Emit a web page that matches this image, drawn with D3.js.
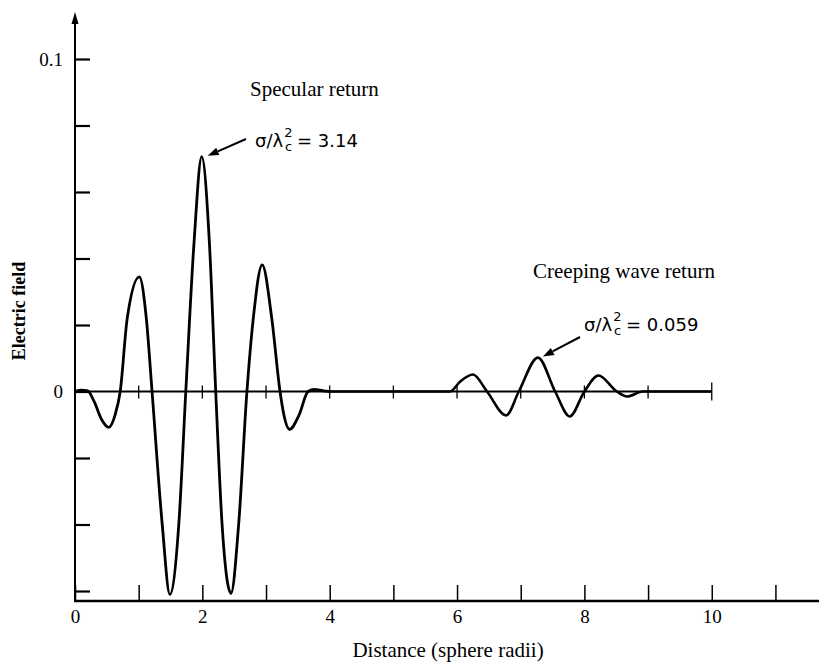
<!DOCTYPE html>
<html>
<head>
<meta charset="utf-8">
<script src="https://cdn.jsdelivr.net/npm/d3@7/dist/d3.min.js"></script>
<style>
	body { margin: 0; background: #fff; }
	svg { display: block; }
	text { font-family: "Liberation Serif", "Times New Roman", serif; fill: #000; }
	text.ratio { font-family: "DejaVu Sans", sans-serif; }
</style>
</head>
<body>
<div id="chart"></div>
<script>
// values
var specularDistance = [0.00, 0.10, 0.20, 0.30, 0.42, 0.53, 0.63, 0.71, 0.82, 1.01, 1.12, 1.21, 1.37, 1.49, 1.63, 1.74, 1.87, 1.99, 2.11, 2.21, 2.31, 2.45, 2.57, 2.70, 2.80, 2.94, 3.09, 3.22, 3.28, 3.37, 3.52, 3.66, 3.76, 3.90, 4.00];
var specularField    = [0, 0.0004, 0.0002, -0.003, -0.0085, -0.0108, -0.007, 0, 0.022, 0.0345, 0.022, 0, -0.04, -0.061, -0.04, 0, 0.045, 0.0706, 0.045, 0, -0.04, -0.0607, -0.04, 0, 0.022, 0.0381, 0.022, 0, -0.007, -0.0114, -0.007, 0, 0.0006, 0.0002, 0];

var creepDistance = [4.00, 5.00, 5.89, 6.05, 6.25, 6.47, 6.77, 6.97, 7.27, 7.54, 7.77, 8.00, 8.22, 8.51, 8.67, 8.92, 10.0];
var creepField    = [0, 0, 0, 0.003, 0.0051, 0, -0.0072, 0, 0.0102, 0, -0.0075, 0, 0.0048, 0, -0.0015, 0, 0];

var xTicks = [0, 1, 2, 3, 4, 5, 6, 7, 8, 9, 10, 11];
var xTickLabels = [0, 2, 4, 6, 8, 10];
var yTicks = [-0.06, -0.04, -0.02, 0, 0.02, 0.04, 0.06, 0.08, 0.1];
var yTickLabels = [0, 0.1];
var zeroLineTicks = [1, 2, 3, 4, 5, 6, 7, 8, 9, 10];

var width = 819, height = 663;

var svg = d3.select("#chart").append("svg")
	.attr("width", width)
	.attr("height", height);

var x = d3.scaleLinear().domain([0, 11.7]).range([75, 820]);
var y = d3.scaleLinear().domain([-0.06, 0.1]).range([591, 59]);
var axisY = 601; // baseline of the frame, slightly below -0.06

// x axis (ticks point up, labels only on even values)
var gx = svg.append("g")
	.attr("transform", "translate(0," + axisY + ")")
	.call(d3.axisBottom(x)
		.tickValues(xTicks)
		.tickSize(-16)
		.tickPadding(8)
		.tickFormat(function(d){ return xTickLabels.indexOf(d) >= 0 ? d : ""; }));
gx.select(".domain").remove();
gx.selectAll(".tick line").attr("stroke", "#000").attr("stroke-width", 1.5);
gx.selectAll(".tick text").style("font-size", "19px").attr("dy", "0.72em");

svg.append("line")
	.attr("x1", x(0) - 1).attr("x2", width)
	.attr("y1", axisY).attr("y2", axisY)
	.attr("stroke", "#000").attr("stroke-width", 2.5);

// y axis (ticks point right)
var gy = svg.append("g")
	.attr("transform", "translate(" + x(0) + ",0)")
	.call(d3.axisLeft(y)
		.tickValues(yTicks)
		.tickSize(-15)
		.tickPadding(12)
		.tickFormat(function(d){ return yTickLabels.indexOf(d) >= 0 ? d3.format("")(d) : ""; }));
gy.select(".domain").remove();
gy.selectAll(".tick line").attr("stroke", "#000").attr("stroke-width", 2.2);
gy.selectAll(".tick text").style("font-size", "19px");

svg.append("line")
	.attr("x1", x(0)).attr("x2", x(0))
	.attr("y1", axisY + 1).attr("y2", 18)
	.attr("stroke", "#000").attr("stroke-width", 2);
svg.append("path")
	.attr("d", "M" + x(0) + ",12 L" + (x(0) - 3.5) + ",24 L" + (x(0) + 3.5) + ",24 Z")
	.attr("fill", "#000");

// zero line with small ticks
svg.append("line")
	.attr("x1", x(0)).attr("x2", x(10))
	.attr("y1", y(0)).attr("y2", y(0))
	.attr("stroke", "#000").attr("stroke-width", 2);
svg.append("g").selectAll("line")
	.data(zeroLineTicks)
	.enter().append("line")
		.attr("x1", function(d){ return x(d); })
		.attr("x2", function(d){ return x(d); })
		.attr("y1", function(d){ return y(0) - (d === 10 ? 9 : 6); })
		.attr("y2", function(d){ return y(0) + (d === 10 ? 9 : 7); })
		.attr("stroke", "#000")
		.attr("stroke-width", 1.3);

// waveform
var line = d3.line()
	.x(function(d){ return x(d[0]); })
	.y(function(d){ return y(d[1]); })
	.curve(d3.curveMonotoneX);

var specular = specularDistance.map(function(d, i){ return [d, specularField[i]]; });
var creep = creepDistance.map(function(d, i){ return [d, creepField[i]]; });

svg.append("path")
	.datum(specular)
	.attr("d", line)
	.attr("fill", "none")
	.attr("stroke", "#000")
	.attr("stroke-width", 2.8)
	.attr("stroke-linejoin", "round");

svg.append("path")
	.datum(creep)
	.attr("d", line)
	.attr("fill", "none")
	.attr("stroke", "#000")
	.attr("stroke-width", 2.6)
	.attr("stroke-linejoin", "round");

// axis titles
svg.append("text")
	.attr("x", 448).attr("y", 657)
	.attr("text-anchor", "middle")
	.style("font-size", "21px")
	.text("Distance (sphere radii)");

svg.append("text")
	.attr("transform", "translate(25,311) rotate(-90)")
	.attr("text-anchor", "middle")
	.style("font-size", "18px")
	.style("font-weight", "bold")
	.text("Electric field");

// annotations
function ratio(px, py, value){
	var t = svg.append("text").attr("class", "ratio").attr("x", px).attr("y", py).style("font-size", "18px");
	t.append("tspan").text("σ/λ");
	t.append("tspan").attr("dx", 1).attr("dy", -10).style("font-size", "13px").text("2");
	t.append("tspan").attr("dx", -7.5).attr("dy", 14).style("font-size", "13px").text("c");
	t.append("tspan").attr("dx", 5).attr("dy", -4).text("= " + value);
}

function arrow(tipX, tipY, tailX, tailY){
	var a = Math.atan2(tipY - tailY, tipX - tailX), len = 11, w = 4;
	var bx = tipX - len * Math.cos(a), by = tipY - len * Math.sin(a);
	svg.append("line")
		.attr("x1", tailX).attr("y1", tailY).attr("x2", bx).attr("y2", by)
		.attr("stroke", "#000").attr("stroke-width", 2);
	svg.append("path")
		.attr("d", "M" + tipX + "," + tipY
			+ " L" + (bx + w * Math.sin(a)) + "," + (by - w * Math.cos(a))
			+ " L" + (bx - w * Math.sin(a)) + "," + (by + w * Math.cos(a)) + " Z")
		.attr("fill", "#000");
}

var specPeak = specular[d3.maxIndex(specularField)];
var creepPeak = creep[d3.maxIndex(creepField)];

svg.append("text").attr("x", 250).attr("y", 96).style("font-size", "21px").text("Specular return");
ratio(255, 147, "3.14");
arrow(x(specPeak[0]) + 6, y(specPeak[1]) - 1, 246, 139);

svg.append("text").attr("x", 533).attr("y", 278).style("font-size", "21px").text("Creeping wave return");
ratio(584, 331, "0.059");
arrow(x(creepPeak[0]) + 5, y(creepPeak[1]) - 1, 580, 337);
</script>
</body>
</html>
